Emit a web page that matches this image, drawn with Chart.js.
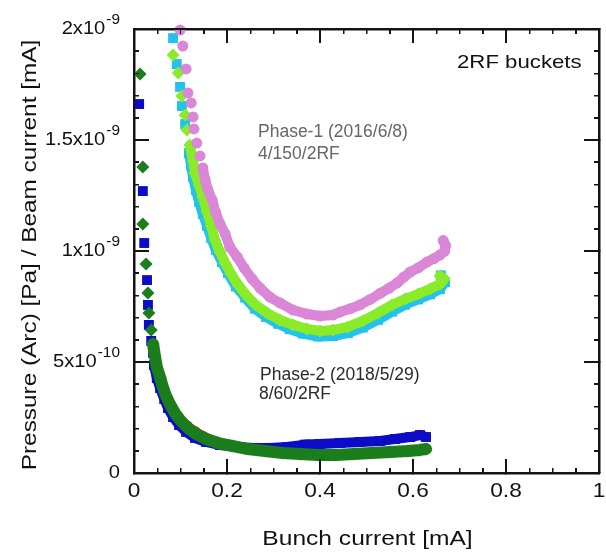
<!DOCTYPE html>
<html>
<head>
<meta charset="utf-8">
<script src="https://cdn.jsdelivr.net/npm/chart.js@4/dist/chart.umd.min.js"></script>
<style>
  html, body { margin: 0; padding: 0; background: #fff; }
  #wrap { position: relative; width: 606px; height: 552px; }
  canvas { display: block; }
  #frame { position: absolute; left: 0; top: 0; width: 606px; height: 552px; pointer-events: none; }
  #frame div { position: absolute; background: #141414; }
</style>
</head>
<body>
<div id="wrap">
  <canvas id="chart" width="606" height="552"></canvas>
  <div id="frame"></div>
</div>
<script>
// Pressure normalised by beam current, in units of 1e-9 Pa/mA, vs bunch current [mA]

// Phase-1 (2016/6/8), 4/150/2RF
const phase1PinkX = [0.099,0.105,0.112,0.116,0.123,0.127,0.129,0.135,0.142,0.148,0.153,0.159,0.168,0.176,0.185,0.196,0.206,0.222,0.237,0.254,0.271,0.292,0.314,0.342,0.372,0.400,0.428,0.443,0.465,0.486,0.508,0.529,0.548,0.566,0.580,0.594,0.612,0.630,0.645,0.658,0.668,0.670,0.665];
const phase1PinkY = [1.995,1.923,1.820,1.712,1.667,1.604,1.550,1.486,1.428,1.374,1.320,1.275,1.230,1.171,1.122,1.077,1.018,0.973,0.923,0.874,0.833,0.793,0.766,0.734,0.716,0.707,0.712,0.725,0.740,0.757,0.782,0.809,0.832,0.856,0.882,0.905,0.925,0.950,0.966,0.982,1.000,1.025,1.047];

const phase1CyanX = [0.084,0.092,0.099,0.103,0.110,0.118,0.123,0.127,0.133,0.140,0.148,0.157,0.166,0.176,0.189,0.202,0.219,0.239,0.260,0.284,0.310,0.335,0.363,0.396,0.428,0.460,0.492,0.525,0.555,0.583,0.611,0.637,0.658,0.669,0.660];
const phase1CyanY = [1.959,1.842,1.739,1.653,1.572,1.441,1.383,1.333,1.275,1.221,1.167,1.113,1.059,1.005,0.950,0.901,0.840,0.790,0.740,0.703,0.672,0.648,0.628,0.615,0.617,0.630,0.655,0.690,0.727,0.758,0.782,0.805,0.828,0.860,0.890];

const phase1GreenX = [0.084,0.095,0.103,0.110,0.114,0.120,0.127,0.131,0.140,0.148,0.157,0.166,0.174,0.185,0.196,0.209,0.224,0.241,0.262,0.286,0.314,0.342,0.372,0.400,0.428,0.460,0.492,0.525,0.555,0.583,0.611,0.637,0.658,0.667,0.658];
const phase1GreenY = [1.883,1.802,1.698,1.613,1.545,1.477,1.410,1.351,1.297,1.243,1.176,1.113,1.050,0.995,0.946,0.896,0.847,0.802,0.757,0.721,0.689,0.667,0.649,0.640,0.644,0.658,0.685,0.721,0.757,0.784,0.806,0.829,0.851,0.874,0.887];

// Phase-2 (2018/5/29), 8/60/2RF
const phase2BlueX = [0.011,0.019,0.022,0.028,0.030,0.032,0.037,0.041,0.043,0.049,0.056,0.065,0.073,0.084,0.097,0.112,0.131,0.155,0.185,0.219,0.256,0.292,0.329,0.368,0.400,0.443,0.486,0.529,0.561,0.594,0.615,0.628];
const phase2BlueY = [1.662,1.270,1.036,0.869,0.757,0.667,0.595,0.541,0.486,0.428,0.383,0.333,0.293,0.252,0.216,0.185,0.158,0.140,0.126,0.117,0.113,0.113,0.117,0.128,0.131,0.135,0.140,0.144,0.153,0.162,0.171,0.162];

const phase2GreenX = [0.013,0.019,0.019,0.026,0.030,0.032,0.037,0.041,0.045,0.049,0.056,0.062,0.069,0.077,0.088,0.101,0.116,0.133,0.155,0.181,0.211,0.245,0.282,0.320,0.357,0.396,0.434,0.473,0.512,0.551,0.589,0.615,0.628];
const phase2GreenY = [1.797,1.378,1.122,0.941,0.811,0.721,0.644,0.581,0.527,0.477,0.432,0.387,0.347,0.311,0.270,0.234,0.203,0.176,0.153,0.135,0.122,0.108,0.099,0.090,0.086,0.081,0.081,0.086,0.090,0.095,0.099,0.104,0.108];

const phase2RedX = [0.116,0.133,0.150,0.168];
const phase2RedY = [0.214,0.189,0.168,0.150];

// Axis ticks and labels
const xMajorTicks = [0, 0.2, 0.4, 0.6, 0.8, 1];
const xTickLabels = ['0', '0.2', '0.4', '0.6', '0.8', '1'];
const yMajorTicks = [0, 0.5, 1, 1.5, 2];
const yTickMantissa = ['0', '5x10', '1x10', '1.5x10', '2x10'];
const yTickExponent = ['', '-10', '-9', '-9', '-9'];

const FONT = '"Liberation Sans", Arial, sans-serif';
const INK = '#141414';

function toPoints(xs, ys) { return xs.map((x, i) => ({ x, y: ys[i] })); }

// A series: discrete markers up to bandStart, then a dense band traced by a thick line
function series(xs, ys, color, style, radius, band, bandStart, order) {
  return {
    data: toPoints(xs, ys),
    order,
    showLine: true,
    borderColor: color,
    backgroundColor: color,
    pointBackgroundColor: color,
    pointBorderColor: color,
    pointBorderWidth: 0,
    pointStyle: style,
    pointRadius: radius,
    pointHoverRadius: radius,
    borderWidth: band,
    borderDash: [],
    borderJoinStyle: 'round',
    borderCapStyle: 'round',
    tension: 0,
    clip: false,
    segment: {
      borderColor: ctx => ctx.p0DataIndex >= bandStart ? color : 'rgba(0,0,0,0)'
    }
  };
}

// Axis drawn only as a frame edge with inward tick marks (no labels, no space taken)
function edgeAxis(position, min, max, step, tickLen, withBorder) {
  const horizontal = position === 'top' || position === 'bottom';
  return {
    type: 'linear',
    position,
    min,
    max,
    ticks: { display: false, stepSize: step, autoSkip: false, maxTicksLimit: 100 },
    grid: {
      display: true,
      drawOnChartArea: false,
      drawTicks: true,
      tickLength: -tickLen,
      tickWidth: 1.5,
      tickColor: INK,
      lineWidth: 1.5,
      color: INK
    },
    border: { display: withBorder, color: INK, width: 2.5 },
    afterFit(scale) {
      if (horizontal) scale.height = 0; else scale.width = 0;
    }
  };
}

function stretchedText(ctx, str, x, y, size, stretch, align, color, rotate) {
  ctx.save();
  ctx.translate(x, y);
  if (rotate) ctx.rotate(rotate);
  ctx.scale(stretch, 1);
  ctx.font = size + 'px ' + FONT;
  ctx.textAlign = align;
  ctx.textBaseline = 'alphabetic';
  ctx.fillStyle = color;
  ctx.fillText(str, 0, 0);
  ctx.restore();
}

function textWidth(ctx, str, size, stretch) {
  ctx.save();
  ctx.font = size + 'px ' + FONT;
  const w = ctx.measureText(str).width * stretch;
  ctx.restore();
  return w;
}

// Frame edges and inward ticks as overlay elements placed from the chart's scales
function buildFrameOverlay(chart) {
  const host = document.getElementById('frame');
  host.innerHTML = '';
  const a = chart.chartArea;
  const x = chart.scales.x;
  const y = chart.scales.y;
  const bar = (l, t, w, h) => {
    const d = document.createElement('div');
    d.style.left = l + 'px';
    d.style.top = t + 'px';
    d.style.width = w + 'px';
    d.style.height = h + 'px';
    host.appendChild(d);
  };
  const tw = 1.5;
  for (let i = 0; i <= 20; i++) {
    const len = i % 4 === 0 ? 14 : 5;
    const px = x.getPixelForValue(i * 0.05);
    bar(px - tw / 2, a.bottom - len, tw, len);
    bar(px - tw / 2, a.top, tw, len);
  }
  for (let i = 0; i <= 20; i++) {
    const len = i % 5 === 0 ? 15 : 5;
    const py = y.getPixelForValue(i * 0.1);
    bar(a.left, py - tw / 2, len, tw);
    bar(a.right - len, py - tw / 2, len, tw);
  }
  const fw = 2.5;
  const w = a.right - a.left;
  const h = a.bottom - a.top;
  bar(a.left - fw / 2, a.top - fw / 2, w + fw, fw);
  bar(a.left - fw / 2, a.bottom - fw / 2, w + fw, fw);
  bar(a.left - fw / 2, a.top - fw / 2, fw, h + fw);
  bar(a.right - fw / 2, a.top - fw / 2, fw, h + fw);
}

// Tick labels (with superscript exponents), axis titles and notes
const axisText = {
  id: 'axisText',
  afterDraw(chart) {
    const ctx = chart.ctx;
    const a = chart.chartArea;
    const x = chart.scales.x;
    const y = chart.scales.y;

    xMajorTicks.forEach((v, i) => {
      stretchedText(ctx, xTickLabels[i], x.getPixelForValue(v), 497, 21, 1.08, 'center', '#111');
    });

    const rightEdge = 120;
    yMajorTicks.forEach((v, i) => {
      const py = y.getPixelForValue(v);
      const exp = yTickExponent[i];
      const expW = exp ? textWidth(ctx, exp, 14, 1.1) + 1 : 0;
      stretchedText(ctx, yTickMantissa[i], rightEdge - expW, py + 4.5, 17.5, 1.15, 'right', '#111');
      if (exp) stretchedText(ctx, exp, rightEdge - expW + 1, py - 5.5, 14, 1.1, 'left', '#111');
    });

    stretchedText(ctx, 'Bunch current [mA]', (a.left + a.right) / 2 + 1, 545, 21, 1.17, 'center', '#111');
    stretchedText(ctx, 'Pressure (Arc) [Pa] / Beam current [mA]', 36, (a.top + a.bottom) / 2 + 4, 21, 1.16, 'center', '#111', -Math.PI / 2);

    stretchedText(ctx, '2RF buckets', 457, 68, 18.5, 1.2, 'left', '#111');
    stretchedText(ctx, 'Phase-1 (2016/6/8)', 258, 137, 17.5, 1.0, 'left', '#666');
    stretchedText(ctx, '4/150/2RF', 258, 159, 17.5, 1.0, 'left', '#666');
    stretchedText(ctx, 'Phase-2 (2018/5/29)', 260, 380, 17.5, 1.0, 'left', '#2a2a2a');
    stretchedText(ctx, '8/60/2RF', 259, 399, 17.5, 1.0, 'left', '#2a2a2a');

    buildFrameOverlay(chart);
  }
};

new Chart(document.getElementById('chart'), {
  type: 'scatter',
  data: {
    datasets: [
      series(phase2GreenX, phase2GreenY, '#1b7d1b', 'rectRot', 6.5, 12, 7, 1),
      series(phase2RedX, phase2RedY, '#cc2a10', 'circle', 4.5, 8, 0, 2),
      series(phase2BlueX, phase2BlueY, '#0c0cc8', 'rect', 7, 10, 8, 3),
      series(phase1PinkX, phase1PinkY, '#d987d6', 'circle', 5.5, 10, 9, 4),
      series(phase1GreenX, phase1GreenY, '#8aec28', 'rectRot', 6.5, 10, 5, 5),
      series(phase1CyanX, phase1CyanY, '#22c2ec', 'rect', 7, 10, 5, 6)
    ]
  },
  options: {
    responsive: false,
    animation: false,
    devicePixelRatio: 1,
    layout: { padding: { left: 134, right: 7, top: 29, bottom: 79 } },
    plugins: { legend: { display: false }, tooltip: { enabled: false } },
    scales: {
      x: edgeAxis('bottom', 0, 1, 0.2, 14, true),
      xMinor: edgeAxis('bottom', 0, 1, 0.05, 5, false),
      xTop: edgeAxis('top', 0, 1, 0.2, 14, true),
      xTopMinor: edgeAxis('top', 0, 1, 0.05, 5, false),
      y: edgeAxis('left', 0, 2, 0.5, 15, true),
      yMinor: edgeAxis('left', 0, 2, 0.1, 5, false),
      yRight: edgeAxis('right', 0, 2, 0.5, 15, true),
      yRightMinor: edgeAxis('right', 0, 2, 0.1, 5, false)
    }
  },
  plugins: [axisText]
});
</script>
</body>
</html>
